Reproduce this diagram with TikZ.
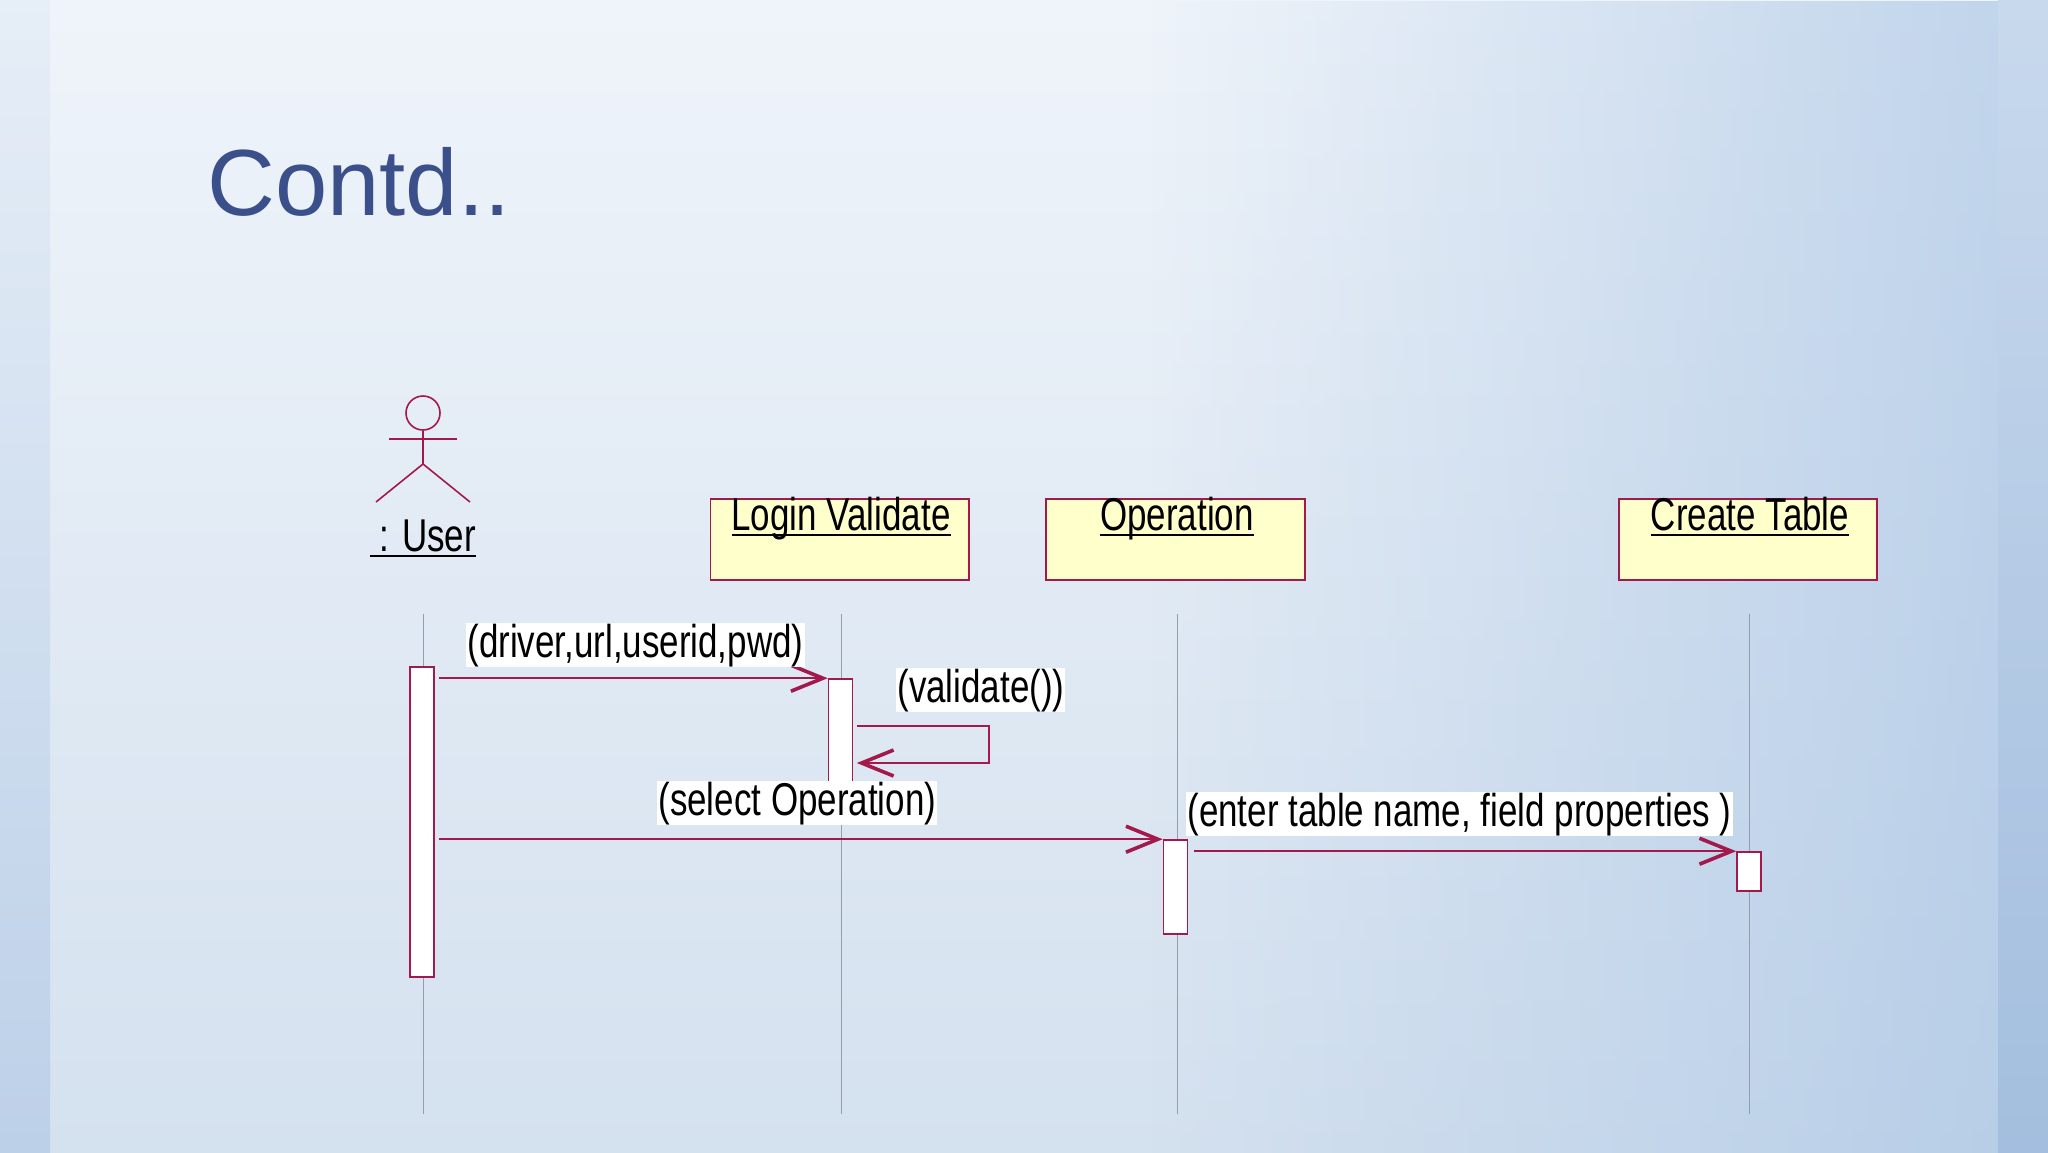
\documentclass[tikz,border=0pt]{standalone}
\usepackage{fontspec}
\setmainfont{Liberation Sans}[FakeStretch=0.76]
\newfontfamily\titlefont{Liberation Sans}
\usetikzlibrary{arrows.meta,fadings}
\definecolor{umlred}{RGB}{163,25,75}
\definecolor{boxfill}{RGB}{255,255,204}
\definecolor{lifegray}{RGB}{150,158,172}
\definecolor{titleblue}{RGB}{59,80,138}
\definecolor{bgtop}{RGB}{239,244,250}
\definecolor{bgbot}{RGB}{212,225,239}
\definecolor{bgright}{RGB}{170,197,228}
\definecolor{striptop}{RGB}{230,238,247}
\definecolor{stripbot}{RGB}{188,208,232}
\definecolor{rstriptop}{RGB}{200,217,237}
\definecolor{rstripbot}{RGB}{163,190,222}
\tikzfading[name=fadetoright, left color=transparent!100, right color=transparent!0]
\newcommand\myul[1]{\setbox0\hbox{#1}\rlap{\rule[-3pt]{\wd0}{1.2pt}}\box0}
\begin{document}
\begin{tikzpicture}[x=0.5pt,y=-0.5pt,
  diag/.style={font=\fontsize{23pt}{27pt}\selectfont, text=black},
  objbox/.style={draw=umlred, fill=boxfill, line width=0.9pt, minimum width=129.25pt, minimum height=40.5pt, inner sep=0},
  objlbl/.style={diag, anchor=base, inner sep=0},
  actbar/.style={draw=umlred, fill=white, line width=0.8pt, minimum width=12pt, inner sep=0},
  lifeline/.style={draw=lifegray, line width=0.5pt},
  msg/.style={draw=umlred, line width=0.9pt, -{Straight Barb[length=16pt,width=13pt,line width=1.8pt]}},
  msglbl/.style={diag, fill=white, anchor=base west, inner xsep=0.5pt, inner ysep=0.3pt},
  actor/.style={draw=umlred, line width=0.8pt}]
% background
\useasboundingbox (0,0) rectangle (2048,1152);
\shade[top color=bgtop, bottom color=bgbot] (0,0) rectangle (2048,1152);
\fill[bgright, path fading=fadetoright, fill opacity=0.7] (1150,0) rectangle (2048,1152);
\shade[top color=striptop, bottom color=stripbot] (0,0) rectangle (50,1152);
\shade[top color=rstriptop, bottom color=rstripbot] (1998,0) rectangle (2048,1152);
% title
\node[anchor=base west, font=\titlefont\fontsize{47pt}{56pt}\selectfont, text=titleblue, inner sep=0] (title) at (207,215) {Contd..};
% actor
\node[circle, actor, minimum size=17pt, inner sep=0] (head) at (423,413) {};
\coordinate (hip) at (423,464);
\coordinate (armL) at (389,439);
\coordinate (armR) at (457,439);
\coordinate (legL) at (376,502);
\coordinate (legR) at (470,502);
\draw[actor] (head.south) -- (hip);
\draw[actor] (armL) -- (armR);
\draw[actor] (legL) -- (hip) -- (legR);
\node[objlbl] (user) at (423,551) {\myul{\ : User}};
% objects
\node[objbox] (lv) at (839.75,539.5) {};
\node[objlbl] (lvt) at (841,530) {\myul{Login Validate}};
\node[objbox] (op) at (1175.5,539.5) {};
\node[objlbl] (opt) at (1177,530) {\myul{Operation}};
\node[objbox] (ct) at (1748,539.5) {};
\node[objlbl] (ctt) at (1750,530) {\myul{Create Table}};
% lifelines
\coordinate (uTop) at (423,614);   \coordinate (uBot) at (423,1114);
\coordinate (lTop) at (841,614);   \coordinate (lBot) at (841,1114);
\coordinate (oTop) at (1177,614);  \coordinate (oBot) at (1177,1114);
\coordinate (cTop) at (1749,614);  \coordinate (cBot) at (1749,1114);
\draw[lifeline] (uTop) -- (uBot);
\draw[lifeline] (lTop) -- (lBot);
\draw[lifeline] (oTop) -- (oBot);
\draw[lifeline] (cTop) -- (cBot);
% activation bars
\node[actbar, minimum height=155pt] (ua) at (422,822) {};
\node[actbar, minimum height=58pt] (lva) at (840.5,737) {};
\node[actbar, minimum height=47pt] (opa) at (1175.5,887) {};
\node[actbar, minimum height=19.5pt] (cta) at (1749,871.5) {};
% messages
\draw[msg] ([xshift=2pt]ua.east |- lva.north) -- (lva.north west);
\coordinate (s1) at (988.7,726);
\coordinate (s2) at (988.7,763);
\draw[msg] ([xshift=1.75pt]lva.east |- s1) -- (s1) -- (s2) -- ([xshift=1.75pt]lva.east |- s2);
\draw[msg] ([xshift=2pt]ua.east |- opa.north) -- (opa.north west);
\draw[msg] ([xshift=2.75pt]opa.east |- cta.north) -- (cta.north west);
% message labels
\node[msglbl] (m1) at (466,657) {(driver,url,userid,pwd)};
\node[msglbl] (m2) at (896,702) {(validate())};
\node[msglbl] (m3) at (657,815) {(select Operation)};
\node[msglbl] (m4) at (1186,826) {(enter table name, field properties )};
\end{tikzpicture}
\end{document}
